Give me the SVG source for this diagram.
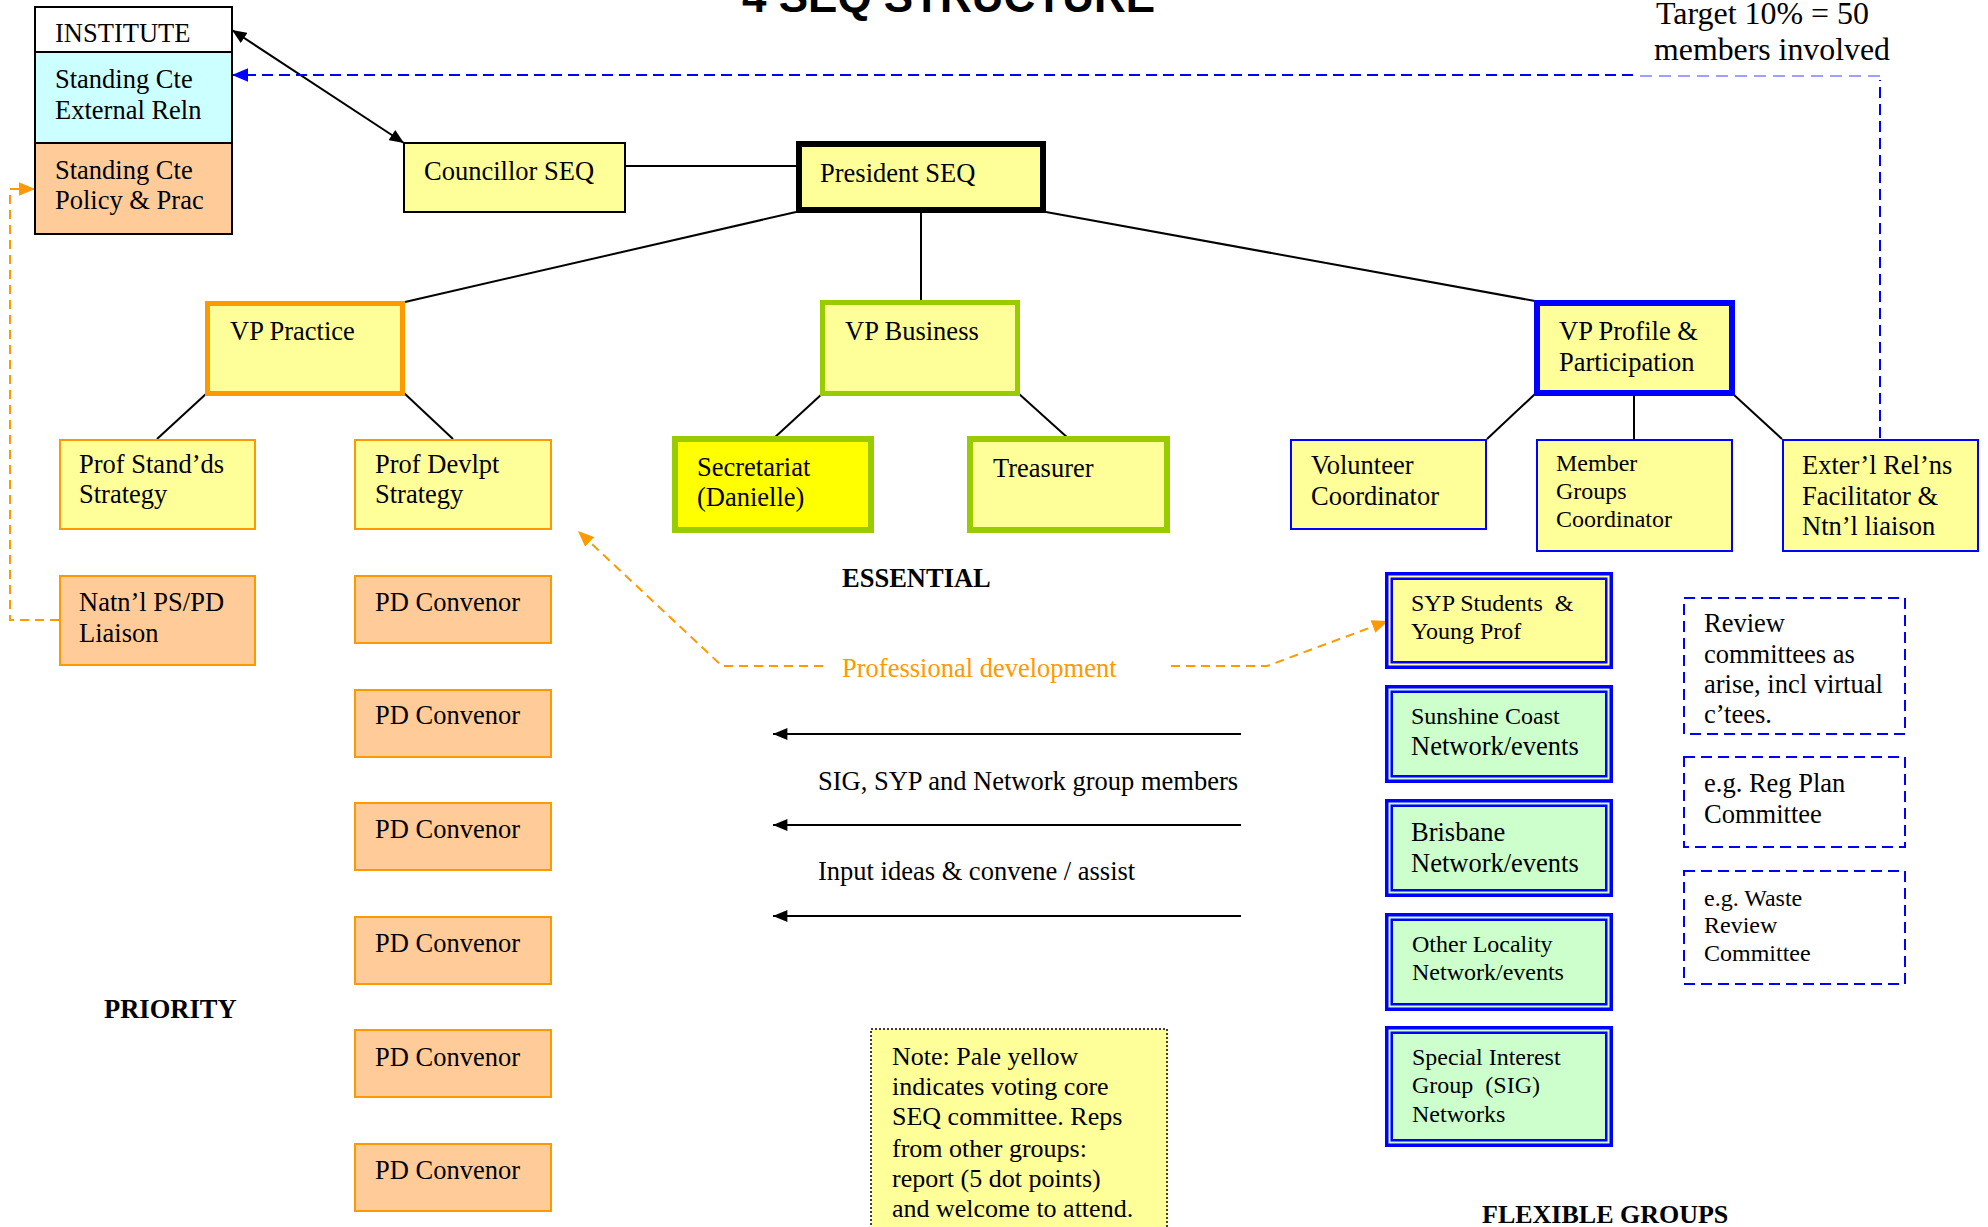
<svg xmlns="http://www.w3.org/2000/svg" width="1988" height="1227" viewBox="0 0 1988 1227">
<style>
text{font-family:"Liberation Serif","Times New Roman",serif;font-size:26.5px;fill:#000}
.b{font-weight:bold}
.s24{font-size:24px}
.s26{font-size:26px}
.s30{font-size:30.5px}
.title{font-family:"Liberation Sans",Arial,sans-serif;font-weight:bold;font-size:44px}
.orange{fill:#FF9900}
.k{fill:none;stroke:#000;stroke-width:2}
.o2{stroke:#FF9900;stroke-width:2}
.bl2{stroke:#0000FF;stroke-width:2}
.py{fill:#FFFF99}
.pk{fill:#FFCC99}
.pg{fill:#CCFFCC}
.pc{fill:#CCFFFF}
.ln{stroke:#000;stroke-width:2;fill:none}
.od{stroke:#FF9900;stroke-width:2;fill:none;stroke-dasharray:9 6}
.bd{stroke:#0000FF;stroke-width:2;fill:none;stroke-dasharray:11 6}
.dbo{fill:none;stroke:#0000FF;stroke-width:3.5}
.dbi{fill:none;stroke:#0000FF;stroke-width:2.5}
</style>
<defs>
<marker id="ak" viewBox="0 0 12 10" refX="12" refY="5" markerUnits="userSpaceOnUse" markerWidth="15" markerHeight="12" orient="auto-start-reverse"><path d="M0,0 L12,5 L0,10 z" fill="#000"/></marker>
<marker id="ab" viewBox="0 0 12 10" refX="12" refY="5" markerUnits="userSpaceOnUse" markerWidth="16" markerHeight="14" orient="auto"><path d="M0,0 L12,5 L0,10 z" fill="#0000FF"/></marker>
<marker id="ao" viewBox="0 0 12 10" refX="12" refY="5" markerUnits="userSpaceOnUse" markerWidth="16" markerHeight="14" orient="auto"><path d="M0,0 L12,5 L0,10 z" fill="#FF9900"/></marker>
</defs>
<rect width="1988" height="1227" fill="#fff"/>

<text class="title" x="742" y="12">4  SEQ STRUCTURE</text>

<g id="connectors">
<line class="ln" x1="232" y1="30" x2="404" y2="143" marker-start="url(#ak)" marker-end="url(#ak)"/>
<line class="ln" x1="625" y1="166" x2="796" y2="166"/>
<line class="ln" x1="405" y1="302" x2="796" y2="212"/>
<line class="ln" x1="921" y1="213" x2="921" y2="300"/>
<line class="ln" x1="1046" y1="212" x2="1535" y2="301"/>
<line class="ln" x1="207" y1="393" x2="157" y2="439"/>
<line class="ln" x1="404" y1="393" x2="453" y2="439"/>
<line class="ln" x1="823" y1="393" x2="773" y2="439"/>
<line class="ln" x1="1018" y1="393" x2="1069" y2="439"/>
<line class="ln" x1="1535" y1="394" x2="1487" y2="439"/>
<line class="ln" x1="1634" y1="396" x2="1634" y2="439"/>
<line class="ln" x1="1733" y1="394" x2="1782" y2="439"/>
<path class="od" d="M59,620 H10 V189 H35" marker-end="url(#ao)"/>
<path class="bd" d="M1880,438 V80"/>
<path d="M1880,76 H1633" fill="none" stroke="#8080FF" stroke-width="1.5" stroke-dasharray="12 7"/>
<path class="bd" d="M1633,75 H232" marker-end="url(#ab)"/>
<path class="od" d="M823,666 H722 L578,531" marker-end="url(#ao)"/>
<path class="od" d="M1171,666 H1267 L1388,621" marker-end="url(#ao)"/>
<line class="ln" x1="1241" y1="734" x2="773" y2="734" marker-end="url(#ak)"/>
<line class="ln" x1="1241" y1="825" x2="773" y2="825" marker-end="url(#ak)"/>
<line class="ln" x1="1241" y1="916" x2="773" y2="916" marker-end="url(#ak)"/>
</g>

<g id="institute">
<rect x="35" y="7" width="197" height="45" fill="#fff" stroke="#000" stroke-width="2"/>
<text x="55" y="42">INSTITUTE</text>
</g>
<g id="standing-ext">
<rect x="35" y="52" width="197" height="91" class="pc" stroke="#000" stroke-width="2"/>
<text x="55" y="88">Standing Cte</text>
<text x="55" y="119">External Reln</text>
</g>
<g id="standing-policy">
<rect x="35" y="143" width="197" height="91" class="pk" stroke="#000" stroke-width="2"/>
<text x="55" y="179">Standing Cte</text>
<text x="55" y="209">Policy &amp; Prac</text>
</g>

<g id="councillor">
<rect x="404" y="143" width="221" height="69" class="py" stroke="#000" stroke-width="2"/>
<text x="424" y="180">Councillor SEQ</text>
</g>
<g id="president">
<rect x="799" y="144" width="244" height="66" class="py" stroke="#000" stroke-width="6"/>
<text x="820" y="182">President SEQ</text>
</g>

<g id="vp-practice">
<rect x="207.5" y="303.5" width="195" height="90" class="py" stroke="#FF9900" stroke-width="5"/>
<text x="230" y="340">VP Practice</text>
</g>
<g id="vp-business">
<rect x="822.5" y="302.5" width="195" height="91" class="py" stroke="#99CC00" stroke-width="5"/>
<text x="845" y="340">VP Business</text>
</g>
<g id="vp-profile">
<rect x="1537" y="303" width="195" height="90" class="py" stroke="#0000FF" stroke-width="6"/>
<text x="1559" y="340">VP Profile &amp;</text>
<text x="1559" y="371">Participation</text>
</g>

<g id="prof-standards">
<rect x="60" y="440" width="195" height="89" class="py o2"/>
<text x="79" y="473">Prof Stand’ds</text>
<text x="79" y="503">Strategy</text>
</g>
<g id="prof-devlpt">
<rect x="355" y="440" width="196" height="89" class="py o2"/>
<text x="375" y="473">Prof Devlpt</text>
<text x="375" y="503">Strategy</text>
</g>
<g id="natnl-liaison">
<rect x="60" y="576" width="195" height="89" class="pk o2"/>
<text x="79" y="611">Natn’l PS/PD</text>
<text x="79" y="642">Liaison</text>
</g>
<g id="pd-convenor-1"><rect x="355" y="576" width="196" height="67" class="pk o2"/><text x="375" y="611">PD Convenor</text></g>
<g id="pd-convenor-2"><rect x="355" y="690" width="196" height="67" class="pk o2"/><text x="375" y="724">PD Convenor</text></g>
<g id="pd-convenor-3"><rect x="355" y="803" width="196" height="67" class="pk o2"/><text x="375" y="838">PD Convenor</text></g>
<g id="pd-convenor-4"><rect x="355" y="917" width="196" height="67" class="pk o2"/><text x="375" y="952">PD Convenor</text></g>
<g id="pd-convenor-5"><rect x="355" y="1030" width="196" height="67" class="pk o2"/><text x="375" y="1066">PD Convenor</text></g>
<g id="pd-convenor-6"><rect x="355" y="1144" width="196" height="67" class="pk o2"/><text x="375" y="1179">PD Convenor</text></g>

<g id="secretariat">
<rect x="675" y="439" width="196" height="91" fill="#FFFF00" stroke="#99CC00" stroke-width="6"/>
<text x="697" y="476">Secretariat</text>
<text x="697" y="506">(Danielle)</text>
</g>
<g id="treasurer">
<rect x="970" y="439" width="197" height="91" class="py" stroke="#99CC00" stroke-width="6"/>
<text x="993" y="477">Treasurer</text>
</g>

<g id="volunteer">
<rect x="1291" y="440" width="195" height="89" class="py bl2"/>
<text x="1311" y="474">Volunteer</text>
<text x="1311" y="505">Coordinator</text>
</g>
<g id="member-groups">
<rect x="1537" y="440" width="195" height="111" class="py bl2"/>
<text class="s24" x="1556" y="471">Member</text>
<text class="s24" x="1556" y="499">Groups</text>
<text class="s24" x="1556" y="527">Coordinator</text>
</g>
<g id="exterl">
<rect x="1783" y="440" width="195" height="111" class="py bl2"/>
<text x="1802" y="474">Exter’l Rel’ns</text>
<text x="1802" y="505">Facilitator &amp;</text>
<text x="1802" y="535">Ntn’l liaison</text>
</g>

<g id="syp">
<rect x="1385" y="572" width="228" height="97" class="py"/>
<rect class="dbo" x="1386.75" y="573.75" width="224.5" height="93.5"/>
<rect class="dbi" x="1391.75" y="578.75" width="214.5" height="83.5"/>
<text class="s24" x="1411" y="611" xml:space="preserve">SYP Students  &amp;</text>
<text class="s24" x="1411" y="639">Young Prof</text>
</g>
<g id="sunshine">
<rect x="1385" y="685" width="228" height="98" class="pg"/>
<rect class="dbo" x="1386.75" y="686.75" width="224.5" height="94.5"/>
<rect class="dbi" x="1391.75" y="691.75" width="214.5" height="84.5"/>
<text class="s24" x="1411" y="724">Sunshine Coast</text>
<text x="1411" y="755">Network/events</text>
</g>
<g id="brisbane">
<rect x="1385" y="799" width="228" height="98" class="pg"/>
<rect class="dbo" x="1386.75" y="800.75" width="224.5" height="94.5"/>
<rect class="dbi" x="1391.75" y="805.75" width="214.5" height="84.5"/>
<text x="1411" y="841">Brisbane</text>
<text x="1411" y="872">Network/events</text>
</g>
<g id="other-locality">
<rect x="1385" y="913" width="228" height="98" class="pg"/>
<rect class="dbo" x="1386.75" y="914.75" width="224.5" height="94.5"/>
<rect class="dbi" x="1391.75" y="919.75" width="214.5" height="84.5"/>
<text class="s24" x="1412" y="952">Other Locality</text>
<text class="s24" x="1412" y="980">Network/events</text>
</g>
<g id="sig">
<rect x="1385" y="1026" width="228" height="121" class="pg"/>
<rect class="dbo" x="1386.75" y="1027.75" width="224.5" height="117.5"/>
<rect class="dbi" x="1391.75" y="1032.75" width="214.5" height="107.5"/>
<text class="s24" x="1412" y="1065">Special Interest</text>
<text class="s24" x="1412" y="1093" xml:space="preserve">Group  (SIG)</text>
<text class="s24" x="1412" y="1122">Networks</text>
</g>

<g id="review">
<rect x="1684" y="598" width="221" height="136" class="pc bd"/>
<text x="1704" y="632">Review</text>
<text x="1704" y="663">committees as</text>
<text x="1704" y="693">arise, incl virtual</text>
<text x="1704" y="723">c’tees.</text>
</g>
<g id="reg-plan">
<rect x="1684" y="757" width="221" height="90" class="pc bd"/>
<text x="1704" y="792">e.g. Reg Plan</text>
<text x="1704" y="823">Committee</text>
</g>
<g id="waste">
<rect x="1684" y="871" width="221" height="113" class="pc bd"/>
<text class="s24" x="1704" y="906">e.g. Waste</text>
<text class="s24" x="1704" y="933">Review</text>
<text class="s24" x="1704" y="961">Committee</text>
</g>

<g id="note">
<rect x="871" y="1029" width="296" height="220" class="py" stroke="#000" stroke-width="1.5" stroke-dasharray="2 2"/>
<text class="s26" x="892" y="1065">Note: Pale yellow</text>
<text class="s26" x="892" y="1095">indicates voting core</text>
<text class="s26" x="892" y="1125">SEQ committee. Reps</text>
<text class="s26" x="892" y="1157">from other groups:</text>
<text class="s26" x="892" y="1187">report (5 dot points)</text>
<text class="s26" x="892" y="1217">and welcome to attend.</text>
</g>

<g id="labels">
<text class="s30" x="1656" y="24" textLength="213" lengthAdjust="spacingAndGlyphs">Target 10% = 50</text>
<text class="s30" x="1654" y="60" textLength="236" lengthAdjust="spacingAndGlyphs">members involved</text>
<text class="b" x="842" y="587">ESSENTIAL</text>
<text class="orange" x="842" y="677">Professional development</text>
<text x="818" y="790">SIG, SYP and Network group members</text>
<text x="818" y="880">Input ideas &amp; convene / assist</text>
<text class="b" x="104" y="1018">PRIORITY</text>
<text class="b s26" x="1482" y="1223">FLEXIBLE GROUPS</text>
</g>
</svg>
